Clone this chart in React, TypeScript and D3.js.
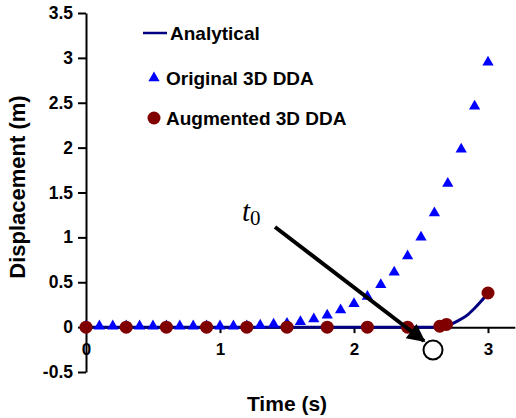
import { useEffect, useRef } from 'react';
import { select, scaleLinear, axisLeft, axisBottom, line, curveMonotoneX, symbol, symbolTriangle } from 'd3';

// original 3D DDA (triangles), every 0.1 s
const origTime = [0, 0.1, 0.2, 0.3, 0.4, 0.5, 0.6, 0.7, 0.8, 0.9, 1.0, 1.1, 1.2, 1.3, 1.4, 1.5,
  1.6, 1.7, 1.8, 1.9, 2.0, 2.1, 2.2, 2.3, 2.4, 2.5, 2.6, 2.7, 2.8, 2.9, 3.0];
const origDisp = [0, 0, 0, 0, 0, 0, 0, 0, 0, 0, 0, 0, 0, 0.01, 0.02, 0.03,
  0.05, 0.08, 0.12, 0.18, 0.25, 0.33, 0.46, 0.6, 0.78, 0.99, 1.26, 1.59, 1.97, 2.45, 2.94];

// augmented 3D DDA (circles)
const augTime = [0, 0.3, 0.6, 0.9, 1.2, 1.5, 1.8, 2.1, 2.4, 2.64, 2.69, 3.0];
const augDisp = [0, 0, 0, 0, 0, 0, 0, 0, 0, 0.01, 0.03, 0.38];

// analytical curve
const anaTime = [0, 2.6, 2.65, 2.7, 2.75, 2.8, 2.85, 2.9, 2.95, 3.0];
const anaDisp = [0, 0, 0.005, 0.02, 0.05, 0.09, 0.14, 0.21, 0.29, 0.38];

const yTicks = [-0.5, 0, 0.5, 1, 1.5, 2, 2.5, 3, 3.5];
const xTicks = [0, 1, 2, 3];

const W = 516;
const H = 418;

export default function App() {
  const ref = useRef<SVGSVGElement>(null);

  useEffect(() => {
    const svg = select(ref.current);
    svg.selectAll('*').remove();

    const x = scaleLinear().domain([0, 3.2]).range([86, 514.8]);
    const y = scaleLinear().domain([-0.5, 3.5]).range([372, 13]);
    const font = 'Liberation Sans, Arial, sans-serif';

    // y axis
    const ya = svg.append('g')
      .attr('transform', `translate(${x(0)},0)`)
      .call(axisLeft(y).tickValues(yTicks).tickSize(8).tickSizeOuter(0).tickPadding(5)
        .tickFormat((d) => String(d)));
    ya.select('.domain').attr('stroke', '#000').attr('stroke-width', 2);
    ya.selectAll('.tick line').attr('stroke', '#000').attr('stroke-width', 2);
    ya.selectAll('.tick text')
      .attr('font-family', font).attr('font-weight', 'bold').attr('font-size', 17.5).attr('fill', '#000');

    // x axis through zero
    const xa = svg.append('g')
      .attr('transform', `translate(0,${y(0)})`)
      .call(axisBottom(x).tickValues(xTicks).tickSize(6).tickSizeOuter(0).tickPadding(10)
        .tickFormat((d) => String(d)));
    xa.select('.domain').attr('stroke', '#000').attr('stroke-width', 2);
    xa.selectAll('.tick line').attr('stroke', '#000').attr('stroke-width', 2);
    xa.selectAll('.tick text')
      .attr('font-family', font).attr('font-weight', 'bold').attr('font-size', 17).attr('fill', '#000');

    // analytical
    const ana = anaTime.map((t, i) => [t, anaDisp[i]] as [number, number]);
    svg.append('path')
      .datum(ana)
      .attr('fill', 'none')
      .attr('stroke', '#000080')
      .attr('stroke-width', 3)
      .attr('d', line<[number, number]>().x((d) => x(d[0])).y((d) => y(d[1])).curve(curveMonotoneX));

    // triangles
    const tri = symbol().type(symbolTriangle).size(55);
    svg.append('g').selectAll('path')
      .data(origTime.map((t, i) => [t, origDisp[i]]))
      .join('path')
      .attr('d', tri as any)
      .attr('transform', (d) => `translate(${x(d[0])},${y(d[1]) - 1})`)
      .attr('fill', '#0000ff');

    // circles
    svg.append('g').selectAll('circle')
      .data(augTime.map((t, i) => [t, augDisp[i]]))
      .join('circle')
      .attr('cx', (d) => x(d[0]))
      .attr('cy', (d) => y(d[1]))
      .attr('r', 6.5)
      .attr('fill', '#800000');

    // legend
    const lg = svg.append('g');
    lg.append('line').attr('x1', 143).attr('x2', 167).attr('y1', 33).attr('y2', 33)
      .attr('stroke', '#000080').attr('stroke-width', 2.5);
    lg.append('path').attr('d', tri as any).attr('transform', 'translate(154,78)').attr('fill', '#0000ff');
    lg.append('circle').attr('cx', 154).attr('cy', 118).attr('r', 6.5).attr('fill', '#800000');
    const labels = [['Analytical', 170, 33], ['Original 3D DDA', 166, 78], ['Augmented 3D DDA', 166, 118]];
    labels.forEach(([txt, lx, ly]) => {
      lg.append('text').attr('x', lx).attr('y', ly).attr('dy', '0.35em')
        .attr('font-family', font).attr('font-weight', 'bold').attr('font-size', 19).text(txt as string);
    });

    // axis titles
    svg.append('text')
      .attr('transform', 'translate(25,187) rotate(-90)')
      .attr('text-anchor', 'middle')
      .attr('font-family', font).attr('font-weight', 'bold').attr('font-size', 22)
      .text('Displacement (m)');
    svg.append('text')
      .attr('x', 287).attr('y', 411)
      .attr('text-anchor', 'middle')
      .attr('font-family', font).attr('font-weight', 'bold').attr('font-size', 21)
      .text('Time (s)');

    // t0 annotation with arrow
    const defs = svg.append('defs');
    defs.append('marker')
      .attr('id', 'ah').attr('viewBox', '0 0 10 10').attr('refX', 9).attr('refY', 5)
      .attr('markerWidth', 5).attr('markerHeight', 4.5).attr('orient', 'auto')
      .attr('markerUnits', 'strokeWidth')
      .append('path').attr('d', 'M0,0 L10,5 L0,10 z').attr('fill', '#000');
    svg.append('line')
      .attr('x1', 275).attr('y1', 227).attr('x2', 424).attr('y2', 341)
      .attr('stroke', '#000').attr('stroke-width', 4).attr('marker-end', 'url(#ah)');
    const t0 = svg.append('text').attr('x', 242).attr('y', 221)
      .attr('font-family', 'Liberation Serif, Times New Roman, serif').attr('font-size', 29);
    t0.append('tspan').attr('font-style', 'italic').text('t');
    t0.append('tspan').attr('font-size', 21).attr('dy', 4).text('0');
    svg.append('circle').attr('cx', 433).attr('cy', 350).attr('r', 9.5)
      .attr('fill', '#fff').attr('stroke', '#000').attr('stroke-width', 2);
  }, []);

  return (
    <svg ref={ref} width={W} height={H}
      style={{ position: 'absolute', left: 0, top: 0, background: '#fff' }} />
  );
}
